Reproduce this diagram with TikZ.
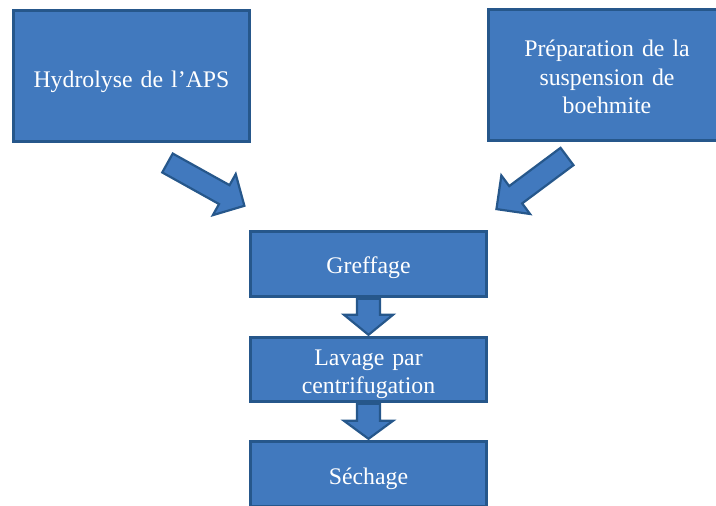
\documentclass[tikz,border=0pt]{standalone}
\usepackage{fontspec}
\setmainfont[WordSpace={1.35}]{Liberation Serif}
\usetikzlibrary{calc}
\definecolor{boxfill}{RGB}{65,121,190}
\definecolor{boxline}{RGB}{38,87,139}
\newcommand\blockarr[6]{%
  \begin{scope}[shift={(#1)},rotate=#2]
    \filldraw[arrowbody] (0,-#4) -- ({#3-#6},-#4) -- ({#3-#6},-#5) -- (#3,0)
      -- ({#3-#6},#5) -- ({#3-#6},#4) -- (0,#4) -- cycle;
  \end{scope}}
\newcommand\boxtext[2][-4.5pt]{\raisebox{#1}[\height][\depth]{\begin{tabular}{@{}c@{}}#2\end{tabular}}}
\begin{document}
\begin{tikzpicture}[x=1pt,y=-1pt,
  stepbox/.style={draw=boxline,fill=boxfill,line width=2.6pt,text=white,
    inner sep=0pt,align=center,font=\fontsize{23.8}{28.5}\selectfont},
  arrowbody/.style={draw=boxline,fill=boxfill,line width=2.2pt,line join=miter}]
\clip (0,0) rectangle (716,506);
\node[stepbox,minimum width=236pt,minimum height=131pt] (h) at (131.5,76) {\boxtext[-5.5pt]{Hydrolyse de l’APS}};
\node[stepbox,minimum width=237pt,minimum height=131pt] (p) at (607,75) {\boxtext[-4.5pt]{Préparation de la\\suspension de\\boehmite}};
\node[stepbox,minimum width=236pt,minimum height=65pt] (g) at (368.5,264) {\boxtext[-3.5pt]{Greffage}};
\node[stepbox,minimum width=236pt,minimum height=64pt] (l) at (368.5,369.5) {\boxtext{Lavage par\\centrifugation}};
\node[stepbox,minimum width=236pt,minimum height=65pt] (s) at (368.5,474) {\boxtext{Séchage}};
% diagonal block arrows
\coordinate (ta) at (167.5,163);
\coordinate (tb) at (567,156.5);
\blockarr{ta}{-29.1}{88}{10.8}{23.5}{23}
\blockarr{tb}{-143.3}{88}{10.8}{24}{24}
% down block arrows
\coordinate (d1) at ($(g.south)+(0,1)$);
\coordinate (d2) at ($(l.south)+(0,1)$);
\blockarr{d1}{-90}{36}{11.5}{24.5}{20}
\blockarr{d2}{-90}{35}{11.5}{24.5}{18}
\end{tikzpicture}
\end{document}
